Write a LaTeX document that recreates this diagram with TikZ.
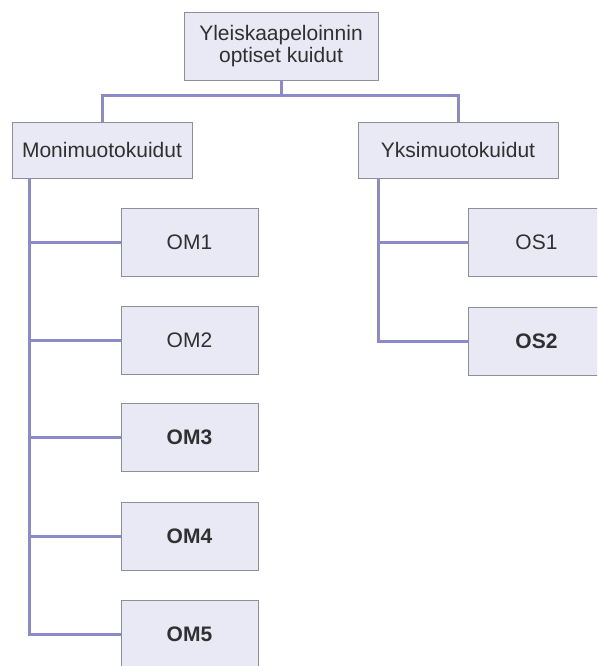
\documentclass[tikz,border=0pt]{standalone}
\usepackage{fontspec}
\setmainfont{Liberation Sans}
\definecolor{boxfill}{HTML}{E9E9F5}
\definecolor{boxdraw}{HTML}{8E8E96}
\definecolor{conncol}{HTML}{8A8ACC}
\definecolor{txt}{HTML}{303030}
\begin{document}
\begin{tikzpicture}[x=1pt,y=-1pt,
  box/.style={draw=boxdraw,line width=0.9pt,fill=boxfill,text=txt,inner sep=0pt,
    font=\fontsize{21}{22}\selectfont,align=center},
  leaf/.style={box,minimum width=137pt,minimum height=68pt},
  conn/.style={draw=conncol,line width=3pt}]
\clip (0,0) rectangle (597,666);
\fill[white] (0,0) rectangle (597,666);
\coordinate (L) at (29,0);
\coordinate (R) at (378,0);
\node[box,minimum width=194pt,minimum height=68pt] (top) at (281,46) {Yleiskaapeloinnin\\optiset kuidut};
\node[box,minimum width=180pt,minimum height=56pt] (moni) at (102,150) {Monimuotokuidut};
\node[box,minimum width=200pt,minimum height=56pt] (yksi) at (458,150) {Yksimuotokuidut};
\node[leaf] (om1) at (189.5,242) {OM1};
\node[leaf] (om2) at (189.5,340) {OM2};
\node[leaf] (om3) at (189.5,437) {\textbf{OM3}};
\node[leaf] (om4) at (189.5,536) {\textbf{OM4}};
\node[leaf] (om5) at (189.5,634) {\textbf{OM5}};
\node[leaf] (os1) at (536.5,242) {OS1};
\node[leaf] (os2) at (536.5,341) {\textbf{OS2}};
\draw[conn] (top.south) -- ++(0,15) coordinate (hub);
\draw[conn] (moni.north) |- (hub) -| (yksi.north);
\draw[conn] (moni.south -| L) |- (om1.west);
\draw[conn] (moni.south -| L) |- (om2.west);
\draw[conn] (moni.south -| L) |- (om3.west);
\draw[conn] (moni.south -| L) |- (om4.west);
\draw[conn] (moni.south -| L) |- (om5.west);
\draw[conn] (yksi.south -| R) |- (os1.west);
\draw[conn] (yksi.south -| R) |- (os2.west);
\end{tikzpicture}
\end{document}
